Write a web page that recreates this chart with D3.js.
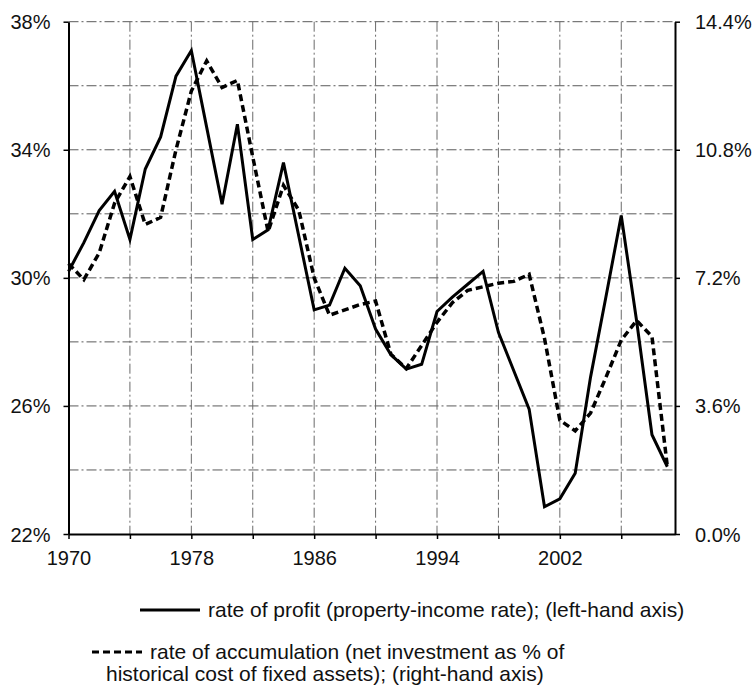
<!DOCTYPE html>
<meta charset="utf-8">
<style>

body {
  margin: 0;
  background: #fff;
}

.tick-label {
  font: 20px "Liberation Sans", Arial, sans-serif;
  fill: #111;
}

.legend {
  font: 21px "Liberation Sans", Arial, sans-serif;
  fill: #111;
}

.grid line {
  stroke: #5a5a5a;
  stroke-width: 1px;
  stroke-dasharray: 10,3,2,3;
}

.series {
  fill: none;
  stroke: #000;
  stroke-linejoin: miter;
}

</style>
<svg width="756" height="688"></svg>
<script src="https://d3js.org/d3.v7.min.js"></script>
<script>

// years 1970..2009
var years = d3.range(1970, 2010);

// rate of profit (property-income rate), % -- left-hand axis
var profit = [
  30.2, 31.1, 32.1, 32.7, 31.2, 33.4, 34.4, 36.3, 37.1, 34.7,
  32.3, 34.8, 31.2, 31.5, 33.6, 31.3, 29.0, 29.15, 30.3, 29.75,
  28.4, 27.6, 27.15, 27.3, 28.95, 29.4, 29.8, 30.2, 28.3, 27.1,
  25.9, 22.85, 23.1, 23.9, 26.9, 29.4, 31.95, 28.65, 25.1, 24.1
];

// rate of accumulation (net investment as % of historical cost of fixed assets) -- right-hand axis
var accumulation = [
  7.6, 7.15, 7.9, 9.3, 10.05, 8.7, 8.9, 10.8, 12.45, 13.3,
  12.55, 12.75, 10.6, 8.5, 9.8, 9.1, 7.2, 6.15, 6.3, 6.45,
  6.55, 5.05, 4.65, 5.3, 5.95, 6.5, 6.85, 6.95, 7.05, 7.1,
  7.3, 5.5, 3.2, 2.9, 3.4, 4.4, 5.45, 6.0, 5.55, 1.9
];

var leftTicks = [22, 26, 30, 34, 38];
var leftGrid = [24, 26, 28, 30, 32, 34, 36, 38];
var rightTicks = [0, 3.6, 7.2, 10.8, 14.4];
var yearLabels = [1970, 1978, 1986, 1994, 2002];
var yearGrid = [1974, 1978, 1982, 1986, 1990, 1994, 1998, 2002, 2006];

var legendItems = [
  {dash: null, lines: ["rate of profit (property-income rate); (left-hand axis)"]},
  {dash: "7,4", lines: ["rate of accumulation (net investment as % of", "historical cost of fixed assets); (right-hand axis)"]}
];

var svg = d3.select("svg"),
    plotLeft = 68.5, plotRight = 675, plotTop = 21.7, plotBottom = 534;

var x = d3.scaleLinear().domain([1970, 2009.5]).range([plotLeft, plotRight]);
var yL = d3.scaleLinear().domain([22, 38]).range([plotBottom, plotTop]);
var yR = d3.scaleLinear().domain([0, 14.4]).range([plotBottom, plotTop]);

// gridlines
var grid = svg.append("g").attr("class", "grid");

grid.selectAll(".h")
  .data(leftGrid)
  .enter().append("line")
    .attr("x1", plotLeft).attr("x2", plotRight)
    .attr("y1", function(d) { return yL(d); })
    .attr("y2", function(d) { return yL(d); });

grid.selectAll(".v")
  .data(yearGrid)
  .enter().append("line")
    .style("stroke", "#6a6a6a")
    .attr("y1", plotTop).attr("y2", plotBottom)
    .attr("x1", function(d) { return x(d); })
    .attr("x2", function(d) { return x(d); });

// axes
var axisLeft = d3.axisLeft(yL).tickValues(leftTicks).tickSize(5).tickFormat(function(d) { return d + "%"; });
var axisRight = d3.axisRight(yR).tickValues(rightTicks).tickSize(5).tickFormat(function(d) { return d.toFixed(1) + "%"; });
var axisBottom = d3.axisBottom(x).tickValues(d3.range(1970, 2010, 4)).tickSize(5)
    .tickFormat(function(d) { return yearLabels.indexOf(d) >= 0 ? d : ""; });

function styleAxis(g, dx, dy) {
  g.select(".domain").attr("stroke", "#000").attr("stroke-width", 2);
  g.selectAll(".tick line").attr("stroke", "#000").attr("stroke-width", 1.5);
  g.selectAll(".tick text").attr("class", "tick-label")
    .attr("dx", dx).attr("dy", dy);
  g.attr("font-family", null).attr("font-size", null);
}

svg.append("g")
    .attr("transform", "translate(" + plotLeft + ",0)")
    .call(axisLeft.tickSizeOuter(0))
    .call(function(g) { styleAxis(g, "-10", "0.35em"); });

svg.append("g")
    .attr("transform", "translate(" + plotRight + ",0)")
    .call(axisRight.tickSizeOuter(0))
    .call(function(g) { styleAxis(g, "12", "0.35em"); });

svg.append("g")
    .attr("transform", "translate(0," + plotBottom + ")")
    .call(axisBottom.tickSizeOuter(0))
    .call(function(g) { styleAxis(g, 0, "1.15em"); });

// series
var lineL = d3.line()
    .x(function(d, i) { return x(years[i]); })
    .y(function(d) { return yL(d); });

var lineR = d3.line()
    .x(function(d, i) { return x(years[i]); })
    .y(function(d) { return yR(d); });

svg.append("path")
    .datum(accumulation)
    .attr("class", "series")
    .attr("stroke-width", 3.5)
    .attr("stroke-dasharray", "7,4")
    .attr("d", lineR);

svg.append("path")
    .datum(profit)
    .attr("class", "series")
    .attr("stroke-width", 3)
    .attr("d", lineL);

// legend
var legendPos = [
  {x1: 140, x2: 200, y: 610, tx: 208, ty: [617]},
  {x1: 92, x2: 142, y: 652, tx: 150, ty: [659, 681], tx2: 106}
];

legendItems.forEach(function(item, i) {
  var p = legendPos[i];
  svg.append("line")
      .attr("x1", p.x1).attr("x2", p.x2)
      .attr("y1", p.y).attr("y2", p.y)
      .attr("stroke", "#000")
      .attr("stroke-width", 3)
      .attr("stroke-dasharray", item.dash);
  item.lines.forEach(function(t, j) {
    svg.append("text")
        .attr("class", "legend")
        .attr("x", j === 0 ? p.tx : p.tx2)
        .attr("y", p.ty[j])
        .text(t);
  });
});

</script>
